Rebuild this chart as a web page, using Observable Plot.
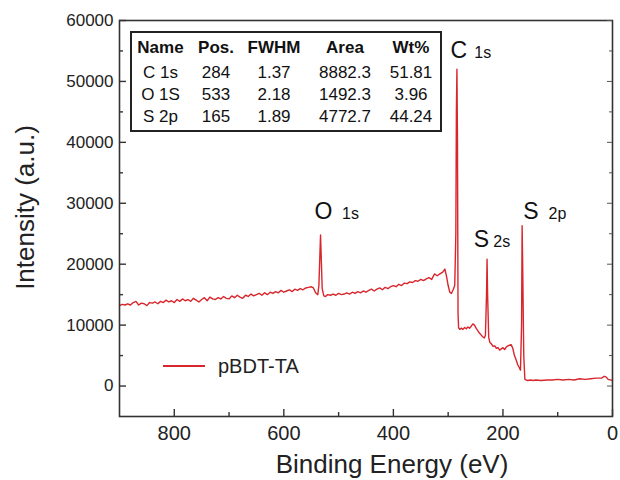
<!DOCTYPE html>
<html>
<head>
<meta charset="utf-8">
<script src="https://cdn.jsdelivr.net/npm/d3@7"></script>
<script src="https://cdn.jsdelivr.net/npm/@observablehq/plot@0.6"></script>
<style>
  body { margin: 0; background: #fff; font-family: "Liberation Sans", Arial, sans-serif; }
  #wrap { position: relative; width: 620px; height: 480px; }
  #tbl { position: absolute; left: 130px; top: 31px; width: 312px; height: 101px; box-sizing: border-box;
         border: 2px solid #222; background: #fff; color: #111; font-size: 17px; }
  .row { display: flex; }
  .row div { text-align: center; white-space: nowrap; }
  .hdr { font-weight: bold; height: 29px; line-height: 29px; }
  #legend { position: absolute; left: 0; top: 0; pointer-events: none; }
</style>
</head>
<body>
<div id="wrap"></div>
<script>
// ---- spectrum (binding energy eV, intensity a.u.) ----
const bindingEnergy = [
  900,895,890,885,880,875,870,865,860,855,850,845,840,835,830,825,820,815,810,805,
  800,795,790,785,780,775,770,765,760,755,750,745,740,735,730,725,720,715,710,705,
  700,695,690,685,680,675,670,665,660,655,650,645,640,635,630,625,620,615,610,605,
  600,595,590,585,580,575,570,565,560,555,550,546,542,538,536,534,533,532,530,527,
  524,520,515,510,505,500,495,490,485,480,475,470,465,460,455,450,445,440,435,430,
  425,420,415,410,405,400,395,390,385,380,375,370,365,360,355,350,345,340,335,330,
  325,320,315,310,306,303,300,297,294,291,288,286,285,284,283,282,281,279,276,273,
  270,267,264,261,258,255,252,249,246,243,240,237,234,232,230,229,228,226,224,221,
  218,215,212,209,206,203,200,197,194,191,188,185,182,179,176,173,170,168,166,165,
  164,162,160,155,150,145,140,130,120,110,100,90,80,70,60,50,40,30,20,15,12,8,4,0
];
const intensity = [
  13200,13400,13300,13500,13300,13700,13900,13300,13600,13500,13200,13700,13600,13800,13500,13900,13700,14100,13800,14000,
  13700,14200,13900,14300,14000,14200,13900,14400,14100,13800,14200,14500,14000,14600,14300,14200,14500,14300,14700,14400,
  14300,14800,14500,14900,14600,14400,14900,14700,15100,14800,15000,15200,14900,15300,15000,15400,15200,15500,15300,15700,
  15400,15600,15800,15500,15900,15700,16000,15800,16100,16200,16300,16100,15300,15000,16500,22000,24800,22000,16000,14800,
  14700,15000,14900,15100,14900,15200,15000,15100,15300,15100,15400,15200,15500,15300,15600,15400,15700,15900,15600,15900,
  16100,15800,16200,16000,16300,16500,16300,16700,16500,16900,16800,17100,17000,17300,17200,17500,17300,17600,17800,17500,
  18400,18100,18400,18700,19200,18000,16500,15400,15200,15800,16500,25000,45000,52000,40000,12000,9600,9300,9500,9300,
  9600,9400,9700,9500,9800,10200,10000,9500,9100,8700,8400,8100,7900,8300,15000,20800,15000,8000,7200,6900,
  6500,6600,6200,6300,5900,6100,6300,6000,6400,6600,6700,6800,6200,5000,4300,3500,3000,2600,10000,26300,
  20000,5000,1100,900,1000,900,1000,900,1000,1000,1100,1000,1100,1000,1200,1100,1200,1300,1300,1600,1500,1100,1000,900
];

// ---- peak annotations ----
const peakElement = ["C", "O", "S", "S"];
const peakLevel   = ["1s", "1s", "2s", "2p"];
const labelEnergy = [280.6, 527.6, 239.4, 148.8];   // centre of element letter (eV)
const levelEnergy = [252.2, 493.8, 217.5, 116.8];   // start of level text (eV)
const labelIntensity = [53800, 27500, 22800, 27500]; // baseline (a.u.)

// ---- inset table ----
const tableHeader = ["Name", "Pos.", "FWHM", "Area", "Wt%"];
const tableName = ["C 1s", "O 1S", "S 2p"];
const tablePos  = ["284", "533", "165"];
const tableFWHM = ["1.37", "2.18", "1.89"];
const tableArea = ["8882.3", "1492.3", "4772.7"];
const tableWt   = ["51.81", "3.96", "44.24"];

// ---- axes ----
const xMajor = [800, 600, 400, 200, 0];
const xMinor = [700, 500, 300, 100];
const yMajor = [0, 10000, 20000, 30000, 40000, 50000, 60000];
const yMinor = [5000, 15000, 25000, 35000, 45000, 55000];
const seriesName = "pBDT-TA";

const spectrum = bindingEnergy.map((e, i) => ({e, v: intensity[i]}));
const labels = peakElement.map((t, i) => ({t, sub: peakLevel[i], x: labelEnergy[i], xs: levelEnergy[i], y: labelIntensity[i]}));

const W = 620, H = 480, mL = 119, mR = 8, mT = 20, mB = 64;
const pw = W - mL - mR, ph = H - mT - mB;
const RED = "#d8262d", INK = "#222";
const FONT = "'Liberation Sans', Arial, sans-serif";

const chart = Plot.plot({
  width: W, height: H,
  marginLeft: mL, marginRight: mR, marginTop: mT, marginBottom: mB,
  style: {fontFamily: FONT, color: INK, background: "#fff", overflow: "visible"},
  x: {domain: [900, 0]},
  y: {domain: [-5000, 60000]},
  marks: [
    Plot.line(spectrum, {x: "e", y: "v", stroke: RED, strokeWidth: 1.4}),
    Plot.frame({stroke: "#333", strokeWidth: 1.6}),
    // inward ticks
    Plot.ruleX(xMajor, {x: d => d, insetTop: ph - 7, stroke: "#333", strokeWidth: 1.4}),
    Plot.ruleX(xMinor, {x: d => d, insetTop: ph - 4, stroke: "#333", strokeWidth: 1.4}),
    Plot.ruleY(yMajor, {y: d => d, insetRight: pw - 7, stroke: "#333", strokeWidth: 1.4}),
    Plot.ruleY(yMinor, {y: d => d, insetRight: pw - 4, stroke: "#333", strokeWidth: 1.4}),
    Plot.ruleY(yMajor, {y: d => d, insetLeft: pw - 5, stroke: "#555", strokeWidth: 1}),
    Plot.ruleY(yMinor, {y: d => d, insetLeft: pw - 3, stroke: "#555", strokeWidth: 1}),
    Plot.axisX(xMajor, {tickSize: 0, tickPadding: 9, fontSize: 20, label: null, tickFormat: d => String(d), fill: INK}),
    Plot.axisY(yMajor, {tickSize: 0, tickPadding: 6, fontSize: 17, label: null, tickFormat: d => String(d), fill: INK}),
    Plot.text(["Binding Energy (eV)"], {frameAnchor: "bottom", textAnchor: "middle", lineAnchor: "middle", dx: 26, dy: 48, fontSize: 26, fill: INK}),
    Plot.text(["Intensity (a.u.)"], {frameAnchor: "left", textAnchor: "middle", lineAnchor: "middle", rotate: -90, dx: -94, dy: -11, fontSize: 26, fill: INK}),
    // peak labels
    Plot.text(labels, {x: "x", y: "y", text: "t", lineAnchor: "bottom", textAnchor: "middle", fontSize: 23, fill: "#111"}),
    Plot.text(labels, {x: "xs", y: "y", text: "sub", lineAnchor: "bottom", textAnchor: "start", fontSize: 16, fill: "#111"})
  ]
});

const wrap = document.getElementById("wrap");
wrap.appendChild(chart);

// inset table
const colW = [57, 54, 62, 80, 52];
const tbl = document.createElement("div");
tbl.id = "tbl";
function addRow(cells, cls, h) {
  const r = document.createElement("div");
  r.className = "row " + (cls || "");
  r.style.height = h + "px";
  r.style.lineHeight = h + "px";
  cells.forEach((c, i) => {
    const d = document.createElement("div");
    d.style.width = colW[i] + "px";
    d.textContent = c;
    r.appendChild(d);
  });
  tbl.appendChild(r);
}
addRow(tableHeader, "hdr", 29);
const rowH = [22, 22, 21];
tableName.forEach((n, i) => addRow([n, tablePos[i], tableFWHM[i], tableArea[i], tableWt[i]], "", rowH[i]));
wrap.appendChild(tbl);

// legend
const ns = "http://www.w3.org/2000/svg";
const lg = document.createElementNS(ns, "svg");
lg.setAttribute("id", "legend");
lg.setAttribute("width", 620);
lg.setAttribute("height", 480);
const ln = document.createElementNS(ns, "line");
ln.setAttribute("x1", 163); ln.setAttribute("x2", 205);
ln.setAttribute("y1", 366); ln.setAttribute("y2", 366);
ln.setAttribute("stroke", RED); ln.setAttribute("stroke-width", 2);
lg.appendChild(ln);
const lt = document.createElementNS(ns, "text");
lt.setAttribute("x", 218); lt.setAttribute("y", 373);
lt.setAttribute("font-size", 20); lt.setAttribute("font-family", FONT); lt.setAttribute("fill", INK);
lt.textContent = seriesName;
lg.appendChild(lt);
wrap.appendChild(lg);
</script>
</body>
</html>
